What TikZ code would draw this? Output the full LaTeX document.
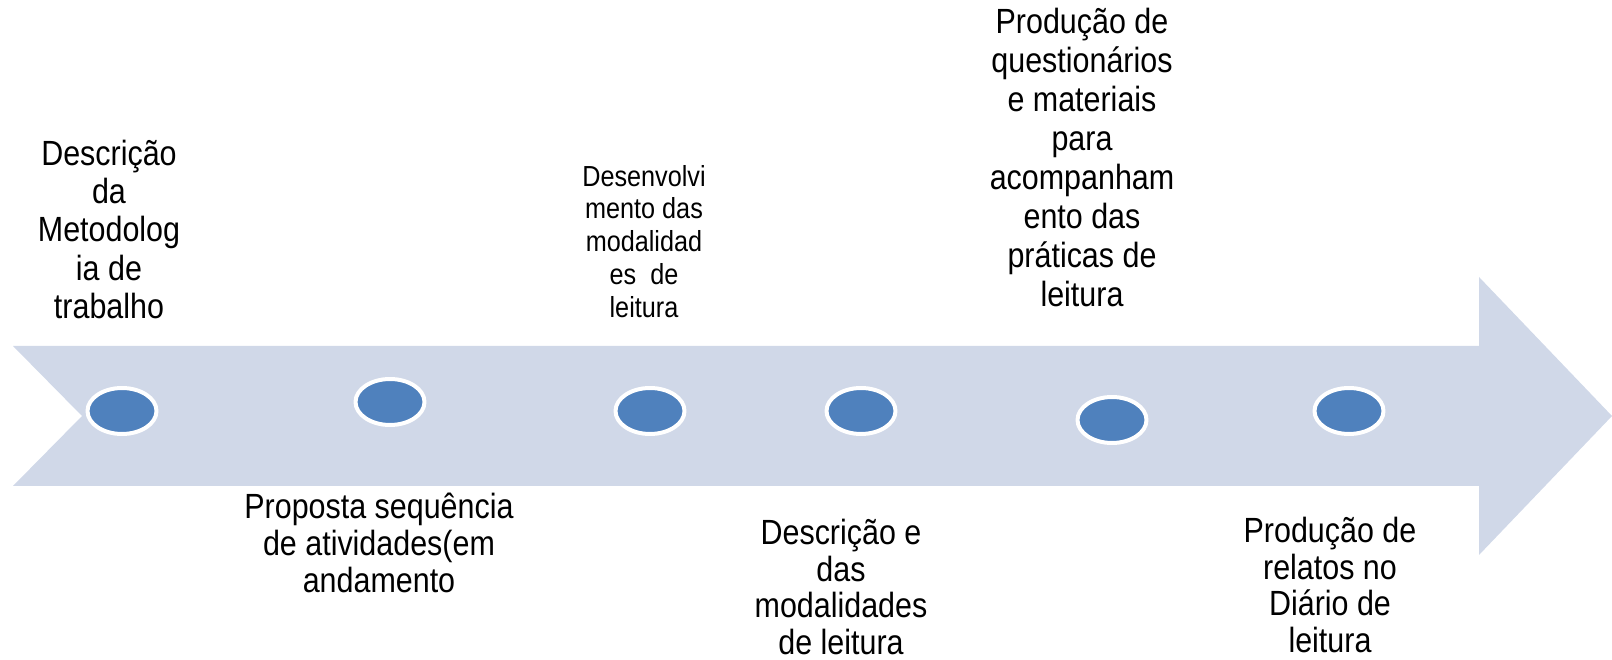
\documentclass[tikz,border=0pt]{standalone}
\usepackage{fontspec}
\setmainfont[FakeStretch=0.87]{Liberation Sans}
\usetikzlibrary{shapes}
\definecolor{arrowfill}{RGB}{208,216,232}
\definecolor{dotfill}{RGB}{79,129,189}

\begin{document}
\begin{tikzpicture}[line join=bevel,
    dot/.style={ellipse,fill=dotfill,draw=white,line width=2bp,minimum width=34.5bp,minimum height=23bp,inner sep=0pt},
    lbl/.style={align=center,inner sep=0pt,font=\fontsize{17.5bp}{19.1bp}\selectfont},
    lowlbl/.style={lbl,font=\fontsize{17.5bp}{18.3bp}\selectfont},
    smalllbl/.style={lbl,font=\fontsize{14.5bp}{16.4bp}\selectfont}]
    %%
    \useasboundingbox (0bp,0bp) rectangle (806bp,330bp);
    \fill [arrowfill] (6.5bp,157bp) -- (739.5bp,157bp) -- (739.5bp,191.5bp) -- (806bp,122bp)
      -- (739.5bp,52.5bp) -- (739.5bp,87bp) -- (6.5bp,87bp) -- (41bp,122bp) -- cycle;
    %
    \node (d1) at (61bp,124.5bp) [dot] {};
      \node (d2) at (195bp,129bp) [dot] {};
      \node (d3) at (325bp,124.5bp) [dot] {};
      \node (d4) at (430.5bp,124.5bp) [dot] {};
      \node (d5) at (556bp,120bp) [dot] {};
      \node (d6) at (674.5bp,124.5bp) [dot] {};
    %
    \node (t1) at (54.5bp,170.5bp) [lbl,anchor=south] {Descrição\\da\\Metodolog\\ia de\\trabalho};
      \node (t2) at (322bp,171bp) [smalllbl,anchor=south] {Desenvolvi\\mento das\\modalidad\\es\ \ de\\leitura};
      \node (t3) at (541bp,176.5bp) [lbl,font=\fontsize{17.5bp}{19.5bp}\selectfont,anchor=south] {Produção de\\questionários\\e materiais\\para\\acompanham\\ento das\\práticas de\\leitura};
      \node (t4) at (189.5bp,83.5bp) [lbl,font=\fontsize{17.5bp}{18.5bp}\selectfont,anchor=north] {Proposta sequência\\de atividades(em\\andamento};
      \node (t5) at (420.5bp,70.5bp) [lowlbl,anchor=north] {Descrição e\\das\\modalidades\\de leitura};
      \node (t6) at (665bp,71.5bp) [lowlbl,anchor=north] {Produção de\\relatos no\\Diário de\\leitura};
    %
    \end{tikzpicture}
\end{document}
